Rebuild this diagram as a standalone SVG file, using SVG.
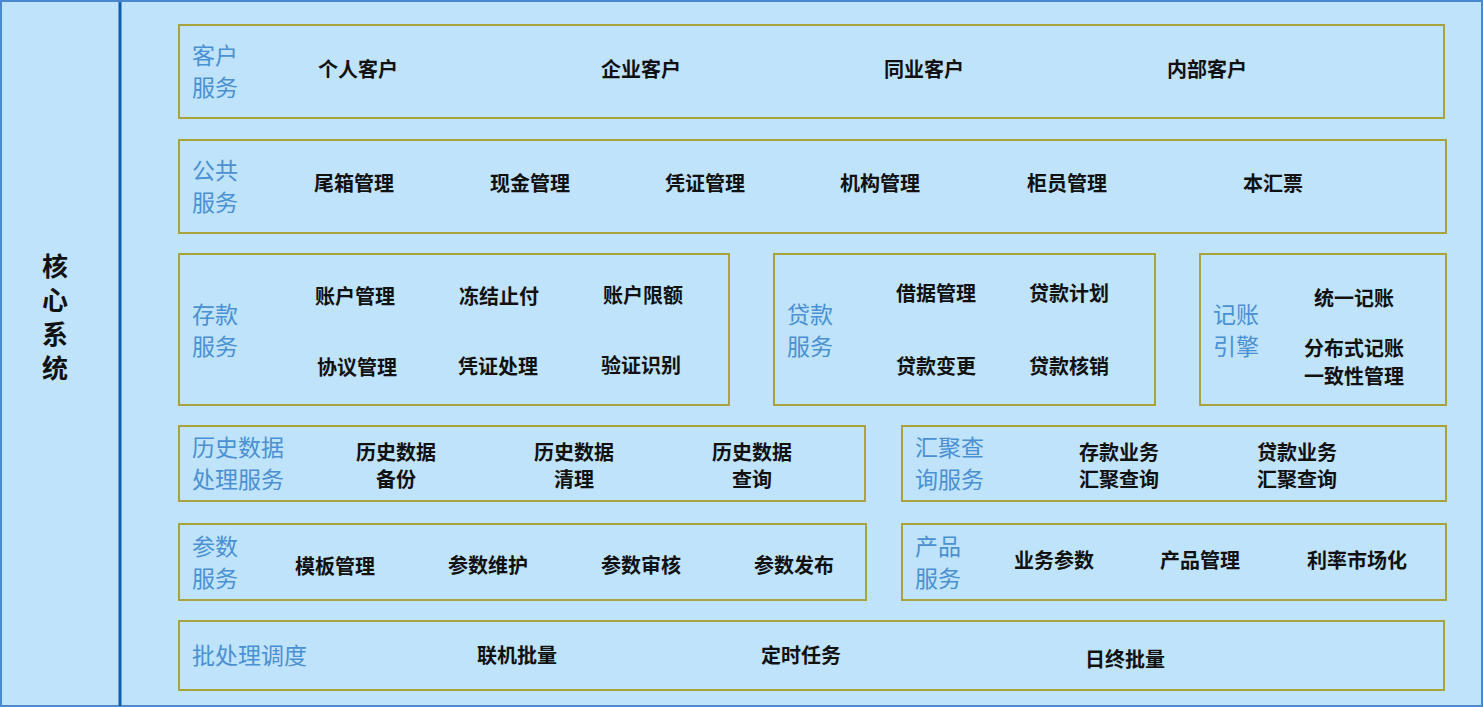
<svg xmlns="http://www.w3.org/2000/svg" width="1483" height="707" viewBox="0 0 1483 707">
<style>
.bx{fill:none;stroke:#A9A33E;stroke-width:2}
.lb{font-family:"Noto Sans CJK SC",sans-serif;font-size:23px;fill:#4A90D2}
.it{font-family:"Noto Sans CJK SC",sans-serif;font-size:20px;font-weight:bold;fill:#111;text-anchor:middle}
.tt{font-family:"Noto Sans CJK SC",sans-serif;font-size:26px;font-weight:bold;fill:#111;text-anchor:middle}
</style>
<rect x="1" y="1" width="1481" height="705" fill="#BEE3FB" stroke="#4A88D0" stroke-width="2"/>
<line x1="120" y1="2" x2="120" y2="706" stroke="#0E5EB0" stroke-width="3"/>
<g id="title"><text class="tt" x="55" y="276">核</text><text class="tt" x="55" y="310">心</text><text class="tt" x="55" y="344">系</text><text class="tt" x="55" y="378">统</text></g>
<g id="kehu"><rect class="bx" x="179" y="25" width="1265" height="93"/><text class="lb" x="192" y="64">客户</text><text class="lb" x="192" y="96">服务</text>
<text class="it" x="358" y="77">个人客户</text><text class="it" x="641" y="77">企业客户</text><text class="it" x="924" y="77">同业客户</text><text class="it" x="1207" y="77">内部客户</text></g>
<g id="gonggong"><rect class="bx" x="179" y="140" width="1267" height="93"/><text class="lb" x="192" y="179">公共</text><text class="lb" x="192" y="211">服务</text>
<text class="it" x="354" y="191">尾箱管理</text><text class="it" x="530" y="191">现金管理</text><text class="it" x="705" y="191">凭证管理</text><text class="it" x="880" y="191">机构管理</text><text class="it" x="1067" y="191">柜员管理</text><text class="it" x="1273" y="191">本汇票</text></g>
<g id="cunkuan"><rect class="bx" x="179" y="254" width="550" height="151"/><text class="lb" x="192" y="323">存款</text><text class="lb" x="192" y="355">服务</text>
<text class="it" x="355" y="304">账户管理</text><text class="it" x="499" y="304">冻结止付</text><text class="it" x="643" y="303">账户限额</text>
<text class="it" x="357" y="375">协议管理</text><text class="it" x="498" y="374">凭证处理</text><text class="it" x="641" y="373">验证识别</text></g>
<g id="daikuan"><rect class="bx" x="774" y="254" width="381" height="151"/><text class="lb" x="787" y="323">贷款</text><text class="lb" x="787" y="355">服务</text>
<text class="it" x="936" y="301">借据管理</text><text class="it" x="1069" y="301">贷款计划</text><text class="it" x="936" y="374">贷款变更</text><text class="it" x="1069" y="374">贷款核销</text></g>
<g id="jizhang"><rect class="bx" x="1200" y="254" width="246" height="151"/><text class="lb" x="1213" y="323">记账</text><text class="lb" x="1213" y="355">引擎</text>
<text class="it" x="1354" y="306">统一记账</text><text class="it" x="1354" y="356">分布式记账</text><text class="it" x="1354" y="384">一致性管理</text></g>
<g id="lishi"><rect class="bx" x="179" y="426" width="686" height="75"/><text class="lb" x="192" y="456">历史数据</text><text class="lb" x="192" y="488">处理服务</text>
<text class="it" x="396" y="460">历史数据</text><text class="it" x="396" y="487">备份</text><text class="it" x="574" y="460">历史数据</text><text class="it" x="574" y="487">清理</text><text class="it" x="752" y="460">历史数据</text><text class="it" x="752" y="487">查询</text></g>
<g id="huiju"><rect class="bx" x="902" y="426" width="544" height="75"/><text class="lb" x="915" y="456">汇聚查</text><text class="lb" x="915" y="488">询服务</text>
<text class="it" x="1119" y="460">存款业务</text><text class="it" x="1119" y="487">汇聚查询</text><text class="it" x="1297" y="460">贷款业务</text><text class="it" x="1297" y="487">汇聚查询</text></g>
<g id="canshu"><rect class="bx" x="179" y="524" width="687" height="76"/><text class="lb" x="192" y="555">参数</text><text class="lb" x="192" y="587">服务</text>
<text class="it" x="335" y="574">模板管理</text><text class="it" x="488" y="573">参数维护</text><text class="it" x="641" y="573">参数审核</text><text class="it" x="794" y="573">参数发布</text></g>
<g id="chanpin"><rect class="bx" x="902" y="524" width="544" height="76"/><text class="lb" x="915" y="555">产品</text><text class="lb" x="915" y="587">服务</text>
<text class="it" x="1054" y="568">业务参数</text><text class="it" x="1200" y="568">产品管理</text><text class="it" x="1357" y="568">利率市场化</text></g>
<g id="pichuli"><rect class="bx" x="179" y="621" width="1265" height="69"/><text class="lb" x="192" y="664">批处理调度</text>
<text class="it" x="517" y="663">联机批量</text><text class="it" x="801" y="663">定时任务</text><text class="it" x="1125" y="667">日终批量</text></g>
<g id="connectors"/>
</svg>
